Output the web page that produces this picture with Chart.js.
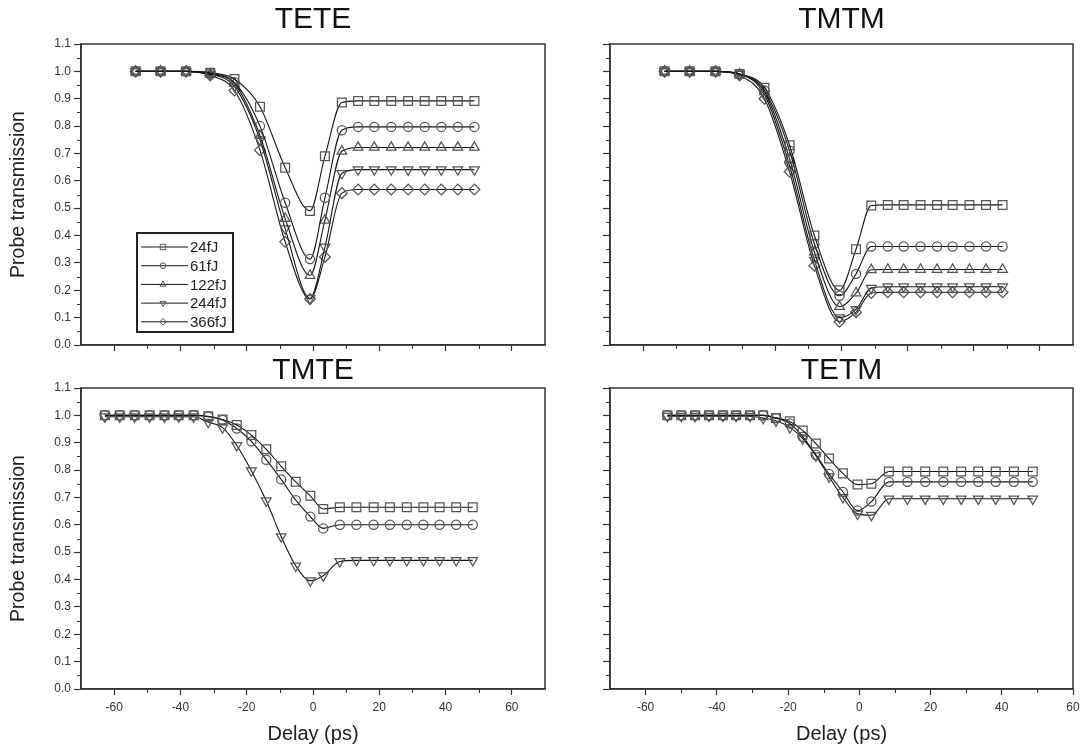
<!DOCTYPE html>
<html>
<head>
<meta charset="utf-8">
<script src="https://cdn.jsdelivr.net/npm/chart.js@4.4.1/dist/chart.umd.min.js"></script>
<style>
html,body{margin:0;padding:0;background:#fff;}
#wrap{position:relative;width:1089px;height:748px;overflow:hidden;background:#fff;}
#wrap canvas{position:absolute;left:0;top:0;}
</style>
</head>
<body>
<div id="wrap">
<canvas id="c1" width="1089" height="748" style="width:1089px;height:748px"></canvas>
<canvas id="c2" width="1089" height="748" style="width:1089px;height:748px"></canvas>
<canvas id="c3" width="1089" height="748" style="width:1089px;height:748px"></canvas>
<canvas id="c4" width="1089" height="748" style="width:1089px;height:748px"></canvas>
</div>
<script>
// ---------------- DATA ----------------
const seriesLabels = ['24fJ', '61fJ', '122fJ', '244fJ', '366fJ'];

// TETE panel
const teteX   = [-53.5, -46, -38.3, -31, -23.7, -16, -8.4, -0.9, 3.6, 8.7, 13.6, 18.5, 23.6, 28.7, 33.7, 38.7, 43.7, 48.7];
const tete24  = [1.0, 1.0, 1.0, 0.995, 0.972, 0.871, 0.648, 0.490, 0.690, 0.886, 0.892, 0.892, 0.892, 0.892, 0.892, 0.892, 0.892, 0.892];
const tete61  = [1.0, 1.0, 1.0, 0.993, 0.960, 0.800, 0.520, 0.314, 0.538, 0.785, 0.797, 0.797, 0.797, 0.797, 0.797, 0.797, 0.797, 0.797];
const tete122 = [1.0, 1.0, 1.0, 0.990, 0.955, 0.765, 0.462, 0.254, 0.456, 0.708, 0.722, 0.722, 0.722, 0.722, 0.722, 0.722, 0.722, 0.722];
const tete244 = [1.0, 1.0, 1.0, 0.990, 0.945, 0.750, 0.425, 0.170, 0.358, 0.627, 0.641, 0.641, 0.641, 0.641, 0.641, 0.641, 0.641, 0.641];
const tete366 = [1.0, 1.0, 1.0, 0.985, 0.930, 0.712, 0.377, 0.168, 0.322, 0.555, 0.568, 0.568, 0.568, 0.568, 0.568, 0.568, 0.568, 0.568];

// TMTM panel
const tmtmX   = [-53.5, -45.9, -38.1, -30.8, -23.3, -15.7, -8.2, -0.6, 4.4, 9.0, 14.0, 18.8, 23.9, 28.9, 33.6, 38.7, 43.7, 48.7];
const tmtm24  = [1.0, 1.0, 1.0, 0.990, 0.940, 0.730, 0.400, 0.200, 0.350, 0.510, 0.512, 0.512, 0.512, 0.512, 0.512, 0.512, 0.512, 0.512];
const tmtm61  = [1.0, 1.0, 1.0, 0.990, 0.930, 0.710, 0.370, 0.180, 0.260, 0.360, 0.360, 0.360, 0.360, 0.360, 0.360, 0.360, 0.360, 0.360];
const tmtm122 = [1.0, 1.0, 1.0, 0.990, 0.925, 0.680, 0.340, 0.140, 0.190, 0.275, 0.276, 0.276, 0.276, 0.276, 0.276, 0.276, 0.276, 0.276];
const tmtm244 = [1.0, 1.0, 1.0, 0.990, 0.915, 0.655, 0.310, 0.100, 0.130, 0.208, 0.213, 0.213, 0.213, 0.213, 0.213, 0.213, 0.213, 0.213];
const tmtm366 = [1.0, 1.0, 1.0, 0.985, 0.900, 0.633, 0.290, 0.085, 0.120, 0.190, 0.193, 0.193, 0.193, 0.193, 0.193, 0.193, 0.193, 0.193];

// TMTE panel (24fJ, 61fJ, 244fJ)
const tmteX   = [-62.8, -58.3, -53.8, -49.3, -44.8, -40.5, -36, -31.6, -27.3, -23, -18.6, -14.1, -9.6, -5.2, -0.8, 3.1, 8.1, 13.1, 18.3, 23.2, 28.3, 33.3, 38.2, 43.2, 48.2];
const tmte24  = [1.0, 1.0, 1.0, 1.0, 1.0, 1.0, 1.0, 0.997, 0.985, 0.965, 0.928, 0.876, 0.814, 0.757, 0.706, 0.658, 0.664, 0.664, 0.664, 0.664, 0.664, 0.664, 0.664, 0.664, 0.664];
const tmte61  = [1.0, 1.0, 1.0, 1.0, 1.0, 1.0, 1.0, 0.995, 0.983, 0.952, 0.905, 0.838, 0.766, 0.690, 0.630, 0.587, 0.600, 0.600, 0.600, 0.600, 0.600, 0.600, 0.600, 0.600, 0.600];
const tmte244 = [0.995, 0.995, 0.995, 0.995, 0.995, 0.995, 0.995, 0.975, 0.955, 0.890, 0.798, 0.688, 0.557, 0.450, 0.396, 0.414, 0.466, 0.470, 0.470, 0.470, 0.470, 0.470, 0.470, 0.470, 0.470];

// TETM panel (24fJ, 61fJ, 244fJ)
const tetmX   = [-53.9, -50, -46.1, -42.2, -38.3, -34.6, -30.7, -27, -23.4, -19.5, -15.9, -12.2, -8.5, -4.6, -0.5, 3.4, 8.3, 13.5, 18.5, 23.6, 28.6, 33.4, 38.3, 43.4, 48.7];
const tetm24  = [1.0, 1.0, 1.0, 1.0, 1.0, 1.0, 1.0, 1.0, 0.990, 0.978, 0.945, 0.897, 0.842, 0.788, 0.747, 0.750, 0.795, 0.795, 0.795, 0.795, 0.795, 0.795, 0.795, 0.795, 0.795];
const tetm61  = [1.0, 1.0, 1.0, 1.0, 1.0, 1.0, 1.0, 1.0, 0.990, 0.970, 0.922, 0.856, 0.786, 0.720, 0.652, 0.685, 0.757, 0.757, 0.757, 0.757, 0.757, 0.757, 0.757, 0.757, 0.757];
const tetm244 = [0.997, 0.997, 0.997, 0.997, 0.997, 0.997, 0.997, 0.990, 0.980, 0.956, 0.915, 0.853, 0.776, 0.700, 0.640, 0.635, 0.695, 0.695, 0.695, 0.695, 0.695, 0.695, 0.695, 0.695, 0.695];

// Axis ticks
const yTickValues  = [0, 0.1, 0.2, 0.3, 0.4, 0.5, 0.6, 0.7, 0.8, 0.9, 1.0, 1.1];
const yMinorValues = [0.05, 0.15, 0.25, 0.35, 0.45, 0.55, 0.65, 0.75, 0.85, 0.95, 1.05];
const xTickValues  = [-60, -40, -20, 0, 20, 40, 60];
const xMinorValues = [-50, -30, -10, 10, 30, 50];

// ---------------- STYLE ----------------
const FONT = '"Liberation Sans", Arial, Helvetica, sans-serif';
Chart.defaults.font.family = FONT;
const AXIS = '#333';
const MARK = '#555';
const LINE = '#151515';
const markerStyles = [
  {pointStyle: 'rect',     radius: 6.2, rotation: 0},
  {pointStyle: 'circle',   radius: 4.6, rotation: 0},
  {pointStyle: 'triangle', radius: 5.6, rotation: 0},
  {pointStyle: 'triangle', radius: 5.6, rotation: 180},
  {pointStyle: 'rectRot',  radius: 5.4, rotation: 0}
];

// ---------------- PLUGINS ----------------
const framePlugin = {
  id: 'frameBox',
  afterDraw(chart) {
    const {ctx, chartArea: a, scales} = chart;
    ctx.save();
    ctx.strokeStyle = AXIS;
    ctx.lineWidth = 1.5;
    ctx.strokeRect(a.left, a.top, a.right - a.left, a.bottom - a.top);
    // minor ticks
    ctx.lineWidth = 1.1;
    ctx.beginPath();
    yMinorValues.forEach(v => {
      const y = Math.round(scales.y.getPixelForValue(v)) + 0.5;
      ctx.moveTo(a.left - 4, y); ctx.lineTo(a.left, y);
    });
    xMinorValues.forEach(v => {
      if (v <= scales.x.min || v >= scales.x.max) return;
      const x = Math.round(scales.x.getPixelForValue(v)) + 0.5;
      ctx.moveTo(x, a.bottom); ctx.lineTo(x, a.bottom + 4);
    });
    ctx.stroke();
    ctx.restore();
  }
};

const titlePlugin = {
  id: 'panelTitle',
  afterDraw(chart, args, opts) {
    if (!opts || !opts.text) return;
    const {ctx, chartArea: a} = chart;
    ctx.save();
    ctx.font = '30px ' + FONT;
    ctx.fillStyle = '#111';
    ctx.textAlign = 'center';
    ctx.textBaseline = 'alphabetic';
    ctx.fillText(opts.text, (a.left + a.right) / 2, opts.y);
    ctx.restore();
  }
};

function drawMarker(ctx, style, x, y, r) {
  ctx.beginPath();
  if (style.pointStyle === 'rect') {
    const s = r * Math.SQRT1_2;
    ctx.rect(x - s, y - s, 2 * s, 2 * s);
  } else if (style.pointStyle === 'circle') {
    ctx.arc(x, y, r, 0, Math.PI * 2);
  } else if (style.pointStyle === 'triangle') {
    const rot = style.rotation * Math.PI / 180;
    for (let k = 0; k < 3; k++) {
      const ang = rot + k * 2 * Math.PI / 3;
      const px = x + Math.sin(ang) * r, py = y - Math.cos(ang) * r;
      if (k === 0) ctx.moveTo(px, py); else ctx.lineTo(px, py);
    }
    ctx.closePath();
  } else {
    ctx.moveTo(x, y - r); ctx.lineTo(x + r, y); ctx.lineTo(x, y + r); ctx.lineTo(x - r, y); ctx.closePath();
  }
  ctx.stroke();
}

const legendPlugin = {
  id: 'insideLegend',
  afterDraw(chart, args, opts) {
    if (!opts || !opts.show) return;
    const {ctx, chartArea: a} = chart;
    const bx = a.left + 56, by = a.top + 189, bw = 96, bh = 99;
    ctx.save();
    ctx.fillStyle = '#fff';
    ctx.fillRect(bx, by, bw, bh);
    ctx.strokeStyle = '#222';
    ctx.lineWidth = 2;
    ctx.strokeRect(bx, by, bw, bh);
    ctx.font = '15px ' + FONT;
    ctx.textAlign = 'left';
    ctx.textBaseline = 'middle';
    chart.data.datasets.forEach((ds, i) => {
      const y = by + 14 + i * 18.7;
      ctx.strokeStyle = LINE; ctx.lineWidth = 1;
      ctx.beginPath(); ctx.moveTo(bx + 4, y); ctx.lineTo(bx + 51, y); ctx.stroke();
      ctx.strokeStyle = MARK; ctx.lineWidth = 1;
      drawMarker(ctx, ds._style, bx + 26, y, ds._style.radius * 0.62);
      ctx.fillStyle = '#222';
      ctx.fillText(ds.label, bx + 53, y + 1);
    });
    ctx.restore();
  }
};

// ---------------- PANELS ----------------
function makePanel(p) {
  const Wy = p.yLabels ? p.L - 7.3 : 8;
  const Hx = p.xLabels ? 57 : 6;
  const datasets = p.series.map((ys, k) => {
    const st = markerStyles[p.styleIdx[k]];
    return {
      label: seriesLabels[p.styleIdx[k]],
      _style: st,
      data: p.xs.map((x, i) => ({x: x, y: ys[i]})),
      borderColor: LINE,
      borderWidth: 1.1,
      pointStyle: st.pointStyle,
      pointRotation: st.rotation,
      pointRadius: st.radius,
      pointBorderColor: MARK,
      pointBorderWidth: 1.25,
      pointBackgroundColor: 'rgba(255,255,255,0)',
      fill: false,
      tension: 0.4,
      cubicInterpolationMode: 'monotone'
    };
  });
  return new Chart(document.getElementById(p.id), {
    type: 'line',
    data: {datasets},
    plugins: [framePlugin, titlePlugin, legendPlugin],
    options: {
      responsive: false,
      animation: false,
      events: [],
      layout: {padding: {left: p.L - Wy, right: 1089 - p.R, top: p.T, bottom: 748 - p.B - Hx}},
      plugins: {
        legend: {display: false},
        tooltip: {enabled: false},
        panelTitle: {text: p.title, y: p.titleY},
        insideLegend: {show: !!p.legend}
      },
      scales: {
        x: {
          type: 'linear', min: p.xMin, max: p.xMax,
          afterBuildTicks: s => { s.ticks = xTickValues.filter(v => v >= p.xMin && v <= p.xMax).map(v => ({value: v})); },
          afterFit: s => { s.height = Hx; },
          grid: {drawOnChartArea: false, drawTicks: true, tickLength: 6, tickColor: AXIS, tickWidth: 1.2},
          border: {display: true, color: AXIS, width: 1.5},
          ticks: {display: p.xLabels, padding: 5, color: '#333', font: {size: 12}, maxRotation: 0, autoSkip: false,
                  callback: v => String(v)},
          title: {display: p.xLabels, text: 'Delay (ps)', color: '#222', font: {size: 20}, padding: 0}
        },
        y: {
          type: 'linear', min: 0, max: 1.1,
          afterBuildTicks: s => { s.ticks = yTickValues.map(v => ({value: v})); },
          afterFit: s => { s.width = Wy; },
          grid: {drawOnChartArea: false, drawTicks: true, tickLength: 7, tickColor: AXIS, tickWidth: 1.2},
          border: {display: true, color: AXIS, width: 1.5},
          ticks: {display: p.yLabels, padding: 3, color: '#333', font: {size: 12}, autoSkip: false,
                  callback: v => Number(v).toFixed(1)},
          title: {display: p.yLabels, text: 'Probe transmission', color: '#222', font: {size: 19.5}, padding: 0}
        }
      }
    }
  });
}

makePanel({id: 'c1', title: 'TETE', titleY: 28, L: 81, R: 545, T: 44, B: 345, xMin: -70, xMax: 70,
  xs: teteX, series: [tete24, tete61, tete122, tete244, tete366], styleIdx: [0, 1, 2, 3, 4],
  yLabels: true, xLabels: false, legend: true});
makePanel({id: 'c2', title: 'TMTM', titleY: 28, L: 610, R: 1073, T: 44, B: 345, xMin: -70, xMax: 70,
  xs: tmtmX, series: [tmtm24, tmtm61, tmtm122, tmtm244, tmtm366], styleIdx: [0, 1, 2, 3, 4],
  yLabels: false, xLabels: false});
makePanel({id: 'c3', title: 'TMTE', titleY: 379, L: 81, R: 545, T: 388, B: 689, xMin: -70, xMax: 70,
  xs: tmteX, series: [tmte24, tmte61, tmte244], styleIdx: [0, 1, 3],
  yLabels: true, xLabels: true});
makePanel({id: 'c4', title: 'TETM', titleY: 379, L: 610, R: 1073, T: 388, B: 689, xMin: -70, xMax: 60,
  xs: tetmX, series: [tetm24, tetm61, tetm244], styleIdx: [0, 1, 3],
  yLabels: false, xLabels: true});
</script>
</body>
</html>
